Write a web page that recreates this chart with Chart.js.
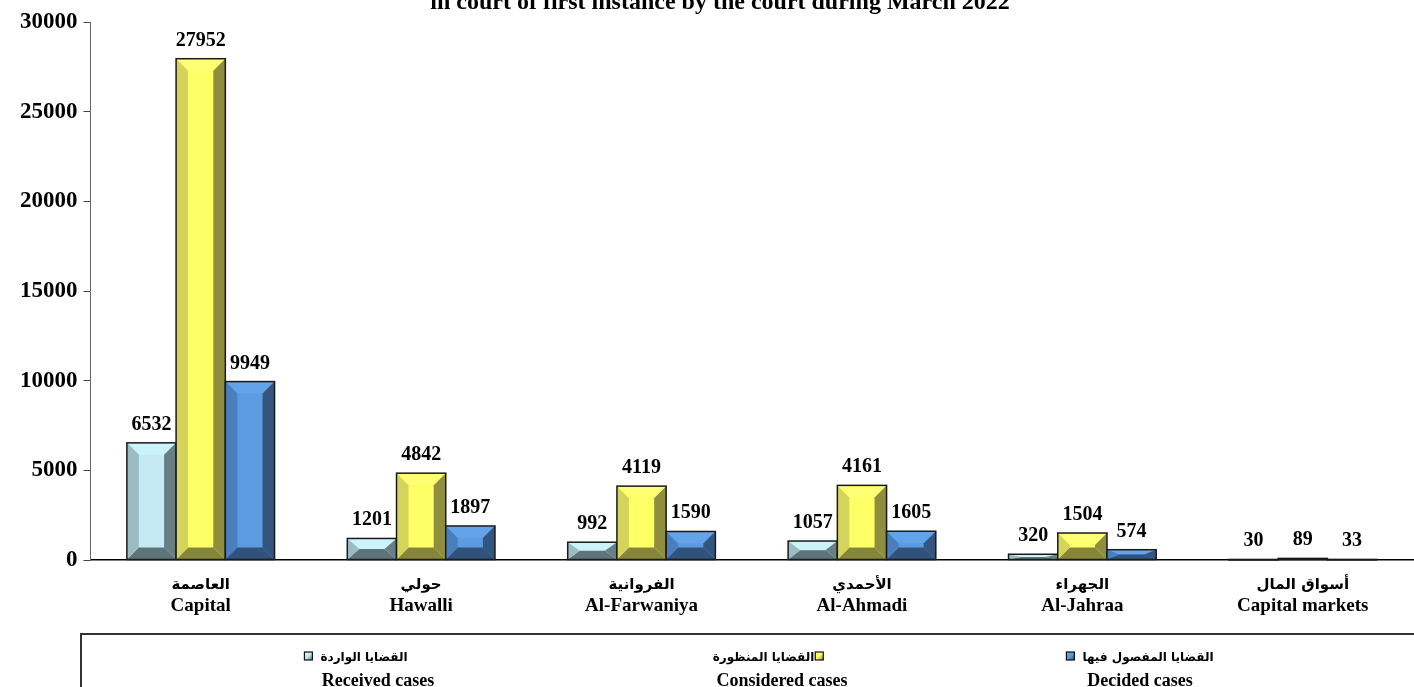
<!DOCTYPE html>
<html>
<head>
<meta charset="utf-8">
<script src="https://cdn.jsdelivr.net/npm/chart.js@4"></script>
<style>
html,body{margin:0;padding:0;background:#fff;}
#wrap{width:1414px;height:687px;position:relative;}
</style>
</head>
<body>
<div id="wrap"><canvas id="c"></canvas></div>
<script>
const titleText = 'in court of first instance by the court during March 2022';
const categoriesAr = ['العاصمة','حولي','الفروانية','الأحمدي','الجهراء','أسواق المال'];
const categoriesEn = ['Capital','Hawalli','Al-Farwaniya','Al-Ahmadi','Al-Jahraa','Capital markets'];
const received = [6532,1201,992,1057,320,30];
const considered = [27952,4842,4119,4161,1504,89];
const decided = [9949,1897,1590,1605,574,33];
const seriesAr = ['القضايا الواردة','القضايا المنظورة','القضايا المفصول فيها'];
const seriesEn = ['Received cases','Considered cases','Decided cases'];
const yMax = 30000, yStep = 5000;

const palettes = [
  {top:'#cbf3fc', left:'#9cbcc4', center:'#c5eaf3', right:'#6a7f84', bottom:'#5f7478'},
  {top:'#ffff74', left:'#d4d45c', center:'#ffff66', right:'#8e8e3e', bottom:'#86863a'},
  {top:'#62a3ea', left:'#4a7fbd', center:'#5b9be0', right:'#33557e', bottom:'#31527a'}
];

const SERIF = '"Liberation Serif","Times New Roman",serif';
const ARAB = '"DejaVu Sans",sans-serif';

function poly(ctx, pts, color){
  ctx.beginPath();
  ctx.moveTo(pts[0][0], pts[0][1]);
  for (let i=1;i<pts.length;i++) ctx.lineTo(pts[i][0], pts[i][1]);
  ctx.closePath();
  ctx.fillStyle = color;
  ctx.fill();
}

const bevelPlugin = {
  id:'bevel',
  afterDatasetsDraw(chart){
    const ctx = chart.ctx;
    ctx.save();
    chart.data.datasets.forEach((ds, di) => {
      const meta = chart.getDatasetMeta(di);
      const p = palettes[di];
      meta.data.forEach((el, i) => {
        const {x, y, base, width} = el.getProps(['x','y','base','width'], true);
        const x0 = x - width/2, x1 = x + width/2;
        const yt = Math.min(y, base), yb = Math.max(y, base);
        const h = yb - yt;
        const b = Math.min(12, width/4);
        const bv = Math.min(12, h/2);
        if (h > 1.5) {
          poly(ctx, [[x0,yt],[x1,yt],[x1-b,yt+bv],[x0+b,yt+bv]], p.top);
          poly(ctx, [[x0,yb],[x1,yb],[x1-b,yb-bv],[x0+b,yb-bv]], p.bottom);
          poly(ctx, [[x0,yt],[x0+b,yt+bv],[x0+b,yb-bv],[x0,yb]], p.left);
          poly(ctx, [[x1,yt],[x1-b,yt+bv],[x1-b,yb-bv],[x1,yb]], p.right);
        }
        ctx.strokeStyle = '#1a1a1a';
        ctx.lineWidth = 1.5;
        ctx.strokeRect(x0, yt, width, Math.max(h, 0.5));
        ctx.fillStyle = '#000';
        ctx.font = 'bold 20px ' + SERIF;
        ctx.textAlign = 'center';
        ctx.textBaseline = 'alphabetic';
        ctx.fillText(String(ds.data[i]), x, yt - 13);
      });
    });
    ctx.restore();
  },
  afterDraw(chart){
    const ctx = chart.ctx;
    const xs = chart.scales.x;
    ctx.save();
    ctx.fillStyle = '#000';
    ctx.textAlign = 'center';
    ctx.textBaseline = 'alphabetic';
    ctx.font = 'bold 24px ' + SERIF;
    ctx.fillText(titleText, 720, 9);
    categoriesEn.forEach((en, i) => {
      const cx = xs.getPixelForValue(i);
      ctx.font = 'bold 15px ' + ARAB;
      ctx.fillText(categoriesAr[i], cx, 589);
      ctx.font = 'bold 19px ' + SERIF;
      ctx.fillText(en, cx, 611);
    });
    ctx.strokeStyle = '#333';
    ctx.lineWidth = 2;
    ctx.strokeRect(81, 634, 1340, 60);
    const centers = [378, 782, 1140];
    const arShift = [-22, -14, 0];
    const sqSide = [-1, 1, -1];
    seriesEn.forEach((en, i) => {
      const cx = centers[i];
      ctx.font = 'bold 12px ' + ARAB;
      const w = ctx.measureText(seriesAr[i]).width;
      const sq = 8, gap = i === 1 ? 1 : 8;
      const total = w + sq + gap;
      const left = cx - total/2 + arShift[i];
      let tx, sx;
      if (sqSide[i] < 0) { sx = left; tx = left + sq + gap; }
      else { tx = left; sx = left + w + gap; }
      ctx.textAlign = 'left';
      ctx.fillStyle = '#000';
      ctx.fillText(seriesAr[i], tx, 661);
      const p = palettes[i];
      const g = ctx.createLinearGradient(sx, 652, sx + sq, 660);
      g.addColorStop(0, p.top); g.addColorStop(0.5, p.center); g.addColorStop(1, p.bottom);
      ctx.fillStyle = g;
      ctx.fillRect(sx, 652, sq, sq);
      ctx.strokeStyle = '#111';
      ctx.lineWidth = 1.2;
      ctx.strokeRect(sx, 652, sq, sq);
      ctx.fillStyle = '#000';
      ctx.textAlign = 'center';
      ctx.font = 'bold 18px ' + SERIF;
      ctx.fillText(en, cx, 686);
    });
    ctx.restore();
  }
};

const ds = [received, considered, decided].map((d, i) => ({
  label: seriesEn[i],
  data: d,
  backgroundColor: palettes[i].center,
  borderWidth: 0,
  categoryPercentage: 0.67,
  barPercentage: 1.0
}));

new Chart(document.getElementById('c'), {
  type: 'bar',
  data: { labels: categoriesEn, datasets: ds },
  options: {
    responsive: true,
    maintainAspectRatio: false,
    animation: false,
    devicePixelRatio: 1,
    layout: { padding: { top: 22, right: 1, left: 0, bottom: 0 } },
    plugins: { legend: { display: false }, title: { display: false }, tooltip: { enabled: false } },
    scales: {
      x: {
        grid: { display: false },
        ticks: { display: false },
        border: { display: true, color: '#000', width: 1.5 },
        afterFit(s){ s.height = 127; }
      },
      y: {
        min: 0, max: yMax,
        ticks: { stepSize: yStep, color: '#000', padding: 6, font: { family: SERIF, size: 23, weight: 'bold' },
                 callback: v => String(v) },
        grid: { drawOnChartArea: false, drawTicks: true, tickLength: 7, color: '#444' },
        border: { display: true, color: '#666', width: 1 },
        afterFit(s){ s.width = 90.5; }
      }
    }
  },
  plugins: [bevelPlugin]
});
</script>
</body>
</html>
